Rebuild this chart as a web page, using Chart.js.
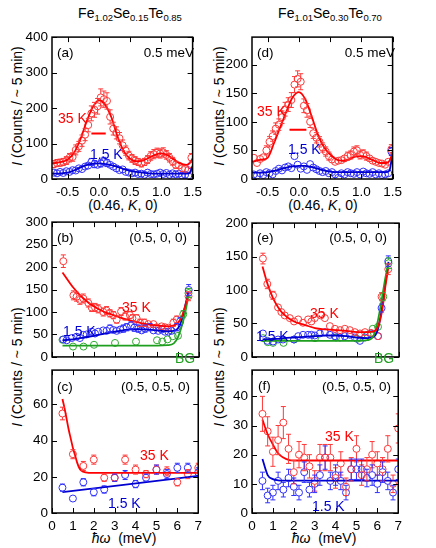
<!DOCTYPE html>
<html>
<head>
<meta charset="utf-8">
<script src="https://cdn.jsdelivr.net/npm/chart.js@4.4.1/dist/chart.umd.min.js"></script>
<style>
  body { margin: 0; background: #fff; width: 436px; height: 548px; position: relative; overflow: hidden;
         font-family: "Liberation Sans", Arial, Helvetica, sans-serif; }
  canvas { position: absolute; }
  .t { position: absolute; white-space: nowrap; color: #000; transform: translate(-50%, -50%); }
  .title { font-size: 14px; }
  .title sub { font-size: 9.5px; vertical-align: -3px; line-height: 0; }
  .axt { font-size: 14px; }
  .yt { font-size: 14px; transform: translate(-50%, -50%) rotate(-90deg); }
</style>
</head>
<body>

<div class="t title" style="left:130px;top:13px">Fe<sub>1.02</sub>Se<sub>0.15</sub>Te<sub>0.85</sub></div>
<div class="t title" style="left:330px;top:13px">Fe<sub>1.01</sub>Se<sub>0.30</sub>Te<sub>0.70</sub></div>

<div class="t yt" style="left:17px;top:106px"><i>I</i> (Counts / ~ 5 min)</div>
<div class="t yt" style="left:17px;top:367px"><i>I</i> (Counts / ~ 5 min)</div>
<div class="t yt" style="left:219px;top:106px"><i>I</i> (Counts / ~ 5 min)</div>
<div class="t yt" style="left:219px;top:367px"><i>I</i> (Counts / ~ 5 min)</div>

<div class="t axt" style="left:123px;top:205px">(0.46, <i>K</i>, 0)</div>
<div class="t axt" style="left:323px;top:205px">(0.46, <i>K</i>, 0)</div>
<div class="t axt" style="left:124px;top:538px"><i>ħω</i>&nbsp; (meV)</div>
<div class="t axt" style="left:324px;top:538px"><i>ħω</i>&nbsp; (meV)</div>

<canvas id="pa"></canvas>
<canvas id="pd"></canvas>
<canvas id="pb"></canvas>
<canvas id="pe"></canvas>
<canvas id="pc"></canvas>
<canvas id="pf"></canvas>

<script>
// ---------- tick labels ----------
const kTicks = [-0.5, 0, 0.5, 1.0, 1.5];
const eTicks = [0, 1, 2, 3, 4, 5, 6, 7];
const aYTicks = [0, 100, 200, 300, 400];
const dYTicks = [0, 50, 100, 150, 200];
const bYTicks = [0, 50, 100, 150, 200, 250, 300];
const eYTicks = [0, 50, 100, 150, 200];
const cYTicks = [0, 20, 40, 60];
const fYTicks = [0, 10, 20, 30, 40];

// ---------- (a) / (d) : constant-energy scans along (0.46, K, 0) ----------
const kPts = [-0.72,-0.67,-0.62,-0.57,-0.52,-0.47,-0.42,-0.37,-0.32,-0.27,-0.22,-0.17,-0.12,-0.07,-0.02,
              0.03,0.08,0.13,0.18,0.23,0.28,0.33,0.38,0.43,0.48,0.53,0.58,0.63,0.68,0.73,
              0.78,0.83,0.88,0.93,0.98,1.03,1.08,1.13,1.18,1.23,1.28,1.33,1.38,1.43,1.48];
const aRed = [42,45,46,48,52,60,62,82,92,108, 125,152,185,195,205,230,225,220,175,142,
              130,115,95,80,66,58,52,48,44,48, 55,65,70,74,72,75,68,60,50,40, 38,30,28,25,60];
const aRedErr = [10,10,10,10,11,12,12,14,14,16, 17,19,21,21,22,24,23,23,20,18,
                 17,16,15,13,12,11,11,10,10,10, 11,12,13,13,13,13,12,12,11,10, 9,8,8,8,12];
const aBlue = [18,16,20,17,22,20,25,24,30,28, 35,38,48,42,40,44,50,45,40,35,
               30,25,27,20,18,16,18,14,15,12, 18,14,13,15,18,14,17,12,16,13, 15,10,12,9,38];
const aBlueErr = [6,6,7,6,7,7,8,7,8,8, 9,9,10,10,9,10,11,10,9,9,
                  8,8,8,7,6,6,6,6,6,5, 6,6,5,6,6,6,6,5,6,5, 6,5,5,5,9];
const dRed = [37,28,35,38,50,65,75,88,95,108, 122,130,138,165,175,170,128,120,100,80,
              72,65,55,48,40,34,30,32,33,36, 40,42,48,50,42,44,40,36,32,30, 28,27,25,30,52];
const dRedErr = [6,5,6,6,8,9,9,10,10,11, 12,12,13,14,14,14,12,12,10,9,
                 9,9,8,8,7,6,6,6,6,6, 7,7,8,8,7,7,7,6,6,6, 6,6,6,6,8];
const dBlue = [8,6,10,7,12,10,8,14,18,15, 20,22,19,40,25,18,22,16,26,20,
               17,14,12,14,10,12,8,2,10,8, 12,10,9,12,8,13,10,9,12,8, 10,7,8,10,48];
const dBlueErr = [3,3,3,3,4,3,3,4,4,4, 4,5,4,6,5,4,5,4,5,4,
                  4,4,3,4,3,3,3,2,3,3, 3,3,3,3,3,4,3,3,3,3, 3,3,3,3,7];

const kFit = [-0.75,-0.6,-0.5,-0.4,-0.3,-0.2,-0.1,0,0.1,0.2,0.3,0.4,0.5,0.6,0.7,0.8,0.9,1.0,1.1,1.2,1.3,1.4,1.45,1.5];
const aRedFit  = [44,48,55,73,110,160,202,222,209,174,119,78,57,50,52,60,68,72,67,55,44,40,44,58];
const aBlueFit = [15,16,18,24,32,39,43,44,42,39,34,28,23,20,18,16,15,15,15,15,15,15,17,37];
const dRedFit  = [30,34,37,62,90,118,143,152,140,111,79,56,43,34,32,34,39,40,37,32,28,28,32,46];
const dBlueFit = [11,11,12,14,17,20,22,23,23,21,18,15,13,12,12,12,12,12,12,12,12,12,15,48];

// resolution bars
const aResK = [-0.12, 0.11], aResI = [128, 128];
const dResK = [-0.15, 0.12], dResI = [86, 86];

// ---------- (b) (0.5, 0, 0), x = 0.15 ----------
const bRedE = [0.54,1.02,1.17,1.33,1.49,1.73,1.89,2.05,2.2,2.44,2.6,2.76,2.92,3.08,3.29,
               3.48,3.71,3.83,4.03,4.19,4.4,4.59,4.83,4.98,5.22,5.38,5.54,5.78,5.94,6.5];
const bRed = [213,137,134,127,130,120,110,110,107,100,103,97,93,83,101,
              90,93,86,86,76,76,73,73,66,68,66,65,76,83,135];
const bRedErr = [14,10,10,10,10,9,9,9,9,9,9,8,8,8,9, 8,8,8,8,8,8,7,7,7,7,7,7,8,8,10];
const bBlueE = [0.54,0.7,0.94,1.17,1.33,1.49,1.65,1.89,2.05,2.2,2.44,2.6,2.76,2.92,3.08,3.25,3.4,
                3.56,3.76,3.92,4.11,4.27,4.43,4.67,4.83,5.06,5.22,5.38,5.54,5.7,5.94,6.1,6.51];
const bBlue = [39,37,42,45,42,49,50,56,52,56,59,58,63,60,58,61,63,
               66,70,65,63,59,63,66,59,58,61,56,56,58,66,79,149];
const bBlueErr = [6,6,6,6,6,7,7,7,7,7,7,7,8,7,7,7,8, 8,8,8,8,7,8,8,7,7,7,7,7,7,8,9,12];
const bBgE = [0.5,1.0,1.5,2.0,3.0,4.0,5.0,5.25,5.5,5.75,6.0,6.25,6.5];
const bBg = [38,23,23,27,31,34,37,34,39,46,47,95,142];
const bBgErr = [5,4,4,5,5,5,5,5,5,6,6,8,10];
const bFitE = [0.5,1,1.5,2,2.5,3,3.5,4,4.5,5,5.5,5.8,6.0,6.2,6.35,6.5];
const bRedFit  = [188,155,130,112,100,92,84,78,73,70,68,70,76,92,115,140];
const bBlueFit = [37,39,43,47,52,56,60,62,61,59,57,58,64,85,115,145];
const bBgFit   = [25,25,25,25,25,25,25,25,25,25,26,30,44,72,100,137];

// ---------- (e) (0.5, 0, 0), x = 0.30 ----------
const eRedE = [0.52,0.73,1.0,1.24,1.4,1.56,1.8,2.0,2.2,2.43,2.67,2.83,2.99,3.28,
               3.47,3.71,3.95,4.19,4.42,4.66,4.9,5.14,5.38,5.66,6.0,6.17,6.49];
const eRed = [147,109,92,74,67,62,58,53,56,51,56,53,58,62, 58,46,42,40,42,40,37,35,37,36,31,90,131];
const eRedErr = [8,7,6,5,5,5,5,5,5,5,5,5,5,5, 5,4,4,4,4,4,4,4,4,4,4,6,8];
const eBlueE = [0.52,0.73,1.0,1.24,1.48,2.0,2.2,2.43,2.67,2.83,2.99,3.23,3.47,
                3.71,3.95,4.19,4.42,4.66,4.9,5.14,5.38,5.66,6.0,6.17,6.49];
const eBlue = [35,24,23,26,26,26,31,33,33,33,32,35,37, 33,31,29,31,33,29,24,29,35,31,73,143];
const eBlueErr = [4,4,3,3,3,3,3,3,4,4,3,4,4, 4,3,3,3,4,3,3,3,4,4,6,8];
const eBgE = [0.52,0.75,1.0,1.5,2.0,3.0,4.0,5.0,5.5,5.75,6.0,6.25,6.5];
const eBg = [28,22,21,21,26,28,29,27,33,42,45,90,140];
const eBgErr = [4,3,3,3,3,3,3,3,4,4,4,6,8];
const eFitE = [0.5,0.75,1,1.25,1.5,2,2.5,3,3.5,4,4.5,5,5.5,5.8,6.0,6.2,6.35,6.5];
const eRedFit  = [135,108,88,74,64,53,48,43,41,40,39,37,37,38,45,70,105,135];
const eBlueFit = [26,26,27,27,28,29,30,31,32,32,31,29,28,30,42,75,110,142];
const eBgFit   = [24,24,24,24,24,24,24,24,24,24,24,24,25,32,55,90,118,140];

// ---------- (c) (0.5, 0.5, 0), x = 0.15 ----------
const cE = [0.5,1,1.5,2,2.5,3,3.5,4,4.5,5,5.5,6,6.5,7];
const cRed = [55,32.5,26,29.5,19.5,19.5,29.5,24,21.5,24,23,17,21.5,25];
const cRedErr = [3.5,2.5,2.5,2.5,2,2,2.5,2.5,2,2.5,2.5,2,2.5,2.5];
const cBlue = [14,8,17,11.5,13,19.5,21,16,19.5,24,21.5,25,25,22.5];
const cBlueErr = [2,1.5,2,2,2,2,2.5,2,2,2.5,2.5,2.5,2.5,2.5];
const cRedFitE = [0.5,0.6,0.7,0.8,0.9,1.0,1.1,1.2,1.3,1.4,1.6,2.0,7.0];
const cRedFit  = [63,58,52,46,41,36,32,28,25,23.5,22.5,22.2,22.2];
const cBlueFitE = [0.5, 7];
const cBlueFit  = [11.5, 20.5];

// ---------- (f) (0.5, 0.5, 0), x = 0.30 ----------
const fE = [0.5,0.75,1,1.25,1.5,1.75,2,2.25,2.5,2.75,3,3.25,3.5,3.75,4,4.25,4.5,4.75,5,5.25,5.5,5.75,6,6.25,6.5,6.75,7];
const fRed = [34,28,21,25,31,22,14,20,19,16,11,19,19,19,12,17,9,15,22,13,15,20,17,15,22,10,29];
const fRedErr = [6,5,5,5,5.5,5,4,4.5,4.5,4,3.5,4.5,4.5,4.5,3.5,4,3,4,4.5,3.5,4,4.5,4,4,4.5,3,5];
const fBlue = [11,6,7,11,8,12,9,7,14,8,10,13,19,11,13,11,7,15,15,15,12,13,10,14,11,7,15];
const fBlueErr = [3,2.5,2.5,3,2.5,3,3,2.5,3.5,2.5,3,3.5,4,3,3.5,3,2.5,3.5,3.5,3.5,3,3.5,3,3.5,3,2.5,3.5];
const fRedFitE = [0.5,0.75,1,1.25,1.5,1.75,2,7];
const fRedFit  = [32,27,23.5,20.5,19,18.2,18,18];
const fBlueFitE = [0.5,0.75,1,1.25,1.5,7];
const fBlueFit  = [18.5,13,11.6,11.2,11.1,11.1];

// ---------- drawing ----------
const FONT = '"Liberation Sans", Arial, Helvetica, sans-serif';
Chart.defaults.font.family = FONT;
Chart.defaults.color = '#000';

const RED = '#ff0000', RED_PT = '#ff3838';
const BLUE = '#0000d0', BLUE_PT = '#3030ff';
const GREEN = '#1f9f1f', GREEN_PT = '#30a830';

function pts(xs, ys) { return xs.map((x, i) => ({ x: x, y: ys[i] })); }

function scatter(xs, ys, errs, color) {
  return { data: pts(xs, ys), err: errs, borderColor: color, backgroundColor: 'rgba(0,0,0,0)',
           showLine: false, pointRadius: 3.5, pointBorderWidth: 1, pointHoverRadius: 3.5, order: 2 };
}
function fit(xs, ys, color) {
  return { data: pts(xs, ys), borderColor: color, borderWidth: 1.8, pointRadius: 0,
           cubicInterpolationMode: 'monotone', fill: false, order: 1 };
}

// error bars, drawn outside the open circle
const errorBars = {
  id: 'errorBars',
  afterDatasetsDraw(chart) {
    const ctx = chart.ctx, xs = chart.scales.x, ys = chart.scales.y, a = chart.chartArea;
    ctx.save();
    ctx.beginPath(); ctx.rect(a.left, a.top, a.right - a.left, a.bottom - a.top); ctx.clip();
    chart.data.datasets.forEach(ds => {
      if (!ds.err) return;
      ctx.strokeStyle = ds.borderColor; ctx.lineWidth = 1;
      ds.data.forEach((p, i) => {
        const px = xs.getPixelForValue(p.x);
        const yc = ys.getPixelForValue(p.y);
        const yt = ys.getPixelForValue(p.y + ds.err[i]);
        const yb = ys.getPixelForValue(p.y - ds.err[i]);
        const r = 3.5;
        ctx.beginPath();
        if (yc - yt > r) {
          ctx.moveTo(px, yc - r); ctx.lineTo(px, yt);
          ctx.moveTo(px - 2.5, yt); ctx.lineTo(px + 2.5, yt);
        }
        if (yb - yc > r) {
          ctx.moveTo(px, yc + r); ctx.lineTo(px, yb);
          ctx.moveTo(px - 2.5, yb); ctx.lineTo(px + 2.5, yb);
        }
        ctx.stroke();
      });
    });
    ctx.restore();
  }
};

// frame, inward ticks on all four sides, and in-panel labels
const frame = {
  id: 'frame',
  afterDraw(chart, args, opts) {
    const { ctx, chartArea: a, scales } = chart;
    ctx.save();
    ctx.strokeStyle = '#000'; ctx.lineWidth = 1;
    ctx.beginPath();
    scales.x.ticks.forEach(t => {
      const px = Math.round(scales.x.getPixelForValue(t.value)) + 0.5;
      ctx.moveTo(px, a.bottom); ctx.lineTo(px, a.bottom - 5);
      ctx.moveTo(px, a.top); ctx.lineTo(px, a.top + 5);
    });
    scales.y.ticks.forEach(t => {
      const py = Math.round(scales.y.getPixelForValue(t.value)) + 0.5;
      ctx.moveTo(a.left, py); ctx.lineTo(a.left + 5, py);
      ctx.moveTo(a.right, py); ctx.lineTo(a.right - 5, py);
    });
    ctx.stroke();
    ctx.lineWidth = 1.5;
    ctx.strokeRect(a.left, a.top, a.right - a.left, a.bottom - a.top);
    (opts.labels || []).forEach(l => {
      ctx.font = (l.size || 13.5) + 'px ' + FONT;
      ctx.fillStyle = l.color || '#000';
      ctx.textAlign = l.align || 'left';
      ctx.textBaseline = 'alphabetic';
      ctx.fillText(l.text, a.left + l.x, a.top + l.y);
    });
    ctx.restore();
  }
};

function panel(id, box, cfg) {
  const showX = cfg.showX;
  const xh = showX ? 22 : 3;
  const cv = document.getElementById(id);
  cv.width = box.R - box.L + 58;
  cv.height = box.B - box.T + 8 + xh;
  cv.style.left = (box.L - 50) + 'px';
  cv.style.top = (box.T - 8) + 'px';
  const fmt = cfg.xFmt || (v => String(v));
  return new Chart(cv, {
    type: 'line',
    data: { datasets: cfg.datasets },
    plugins: [errorBars, frame],
    options: {
      responsive: false, animation: false, devicePixelRatio: 1,
      layout: { padding: { left: 0, top: 8, right: 8, bottom: 0 } },
      plugins: { legend: { display: false }, tooltip: { enabled: false }, frame: { labels: cfg.labels } },
      scales: {
        x: {
          type: 'linear', min: cfg.xMin, max: cfg.xMax,
          grid: { display: false, drawTicks: false }, border: { display: false },
          ticks: { display: showX, padding: 5, maxRotation: 0, autoSkip: false,
                   font: { size: 13.5 }, callback: fmt },
          afterBuildTicks: s => { s.ticks = cfg.xTicks.map(v => ({ value: v })); },
          afterFit: s => { s.height = xh; }
        },
        y: {
          type: 'linear', min: 0, max: cfg.yMax,
          grid: { display: false, drawTicks: false }, border: { display: false },
          ticks: { padding: 4, font: { size: 13.5 } },
          afterBuildTicks: s => { s.ticks = cfg.yTicks.map(v => ({ value: v })); },
          afterFit: s => { s.width = 50; }
        }
      }
    }
  });
}

const kFmt = v => v.toFixed(1);

panel('pa', { L: 52, R: 199, T: 33, B: 179 }, {
  showX: true, xMin: -0.75, xMax: 1.5, xTicks: kTicks, xFmt: kFmt, yMax: 400, yTicks: aYTicks,
  datasets: [
    scatter(kPts, aRed, aRedErr, RED_PT), scatter(kPts, aBlue, aBlueErr, BLUE_PT),
    fit(kFit, aRedFit, RED), fit(kFit, aBlueFit, BLUE),
    { data: pts(aResK, aResI), borderColor: RED, borderWidth: 2, pointRadius: 0, order: 0 }
  ],
  labels: [
    { text: '(a)', x: 5, y: 20 }, { text: '0.5 meV', x: 142, y: 20, align: 'right' },
    { text: '35 K', x: 6, y: 86, color: RED, size: 14 }, { text: '1.5 K', x: 38, y: 122, color: BLUE, size: 14 }
  ]
});

panel('pd', { L: 252, R: 399, T: 33, B: 179 }, {
  showX: true, xMin: -0.75, xMax: 1.5, xTicks: kTicks, xFmt: kFmt, yMax: 248, yTicks: dYTicks,
  datasets: [
    scatter(kPts, dRed, dRedErr, RED_PT), scatter(kPts, dBlue, dBlueErr, BLUE_PT),
    fit(kFit, dRedFit, RED), fit(kFit, dBlueFit, BLUE),
    { data: pts(dResK, dResI), borderColor: RED, borderWidth: 2, pointRadius: 0, order: 0 }
  ],
  labels: [
    { text: '(d)', x: 5, y: 20 }, { text: '0.5 meV', x: 143, y: 20, align: 'right' },
    { text: '35 K', x: 5, y: 79, color: RED, size: 14 }, { text: '1.5 K', x: 36, y: 117, color: BLUE, size: 14 }
  ]
});

panel('pb', { L: 52, R: 199, T: 218, B: 366 }, {
  showX: false, xMin: 0, xMax: 7, xTicks: eTicks, yMax: 300, yTicks: bYTicks,
  datasets: [
    scatter(bRedE, bRed, bRedErr, RED_PT), scatter(bBlueE, bBlue, bBlueErr, BLUE_PT),
    scatter(bBgE, bBg, bBgErr, GREEN_PT),
    fit(bFitE, bRedFit, RED), fit(bFitE, bBgFit, GREEN), fit(bFitE, bBlueFit, BLUE)
  ],
  labels: [
    { text: '(b)', x: 5, y: 20 }, { text: '(0.5, 0, 0)', x: 135, y: 20, align: 'right' },
    { text: '35 K', x: 70, y: 90, color: RED, size: 14 }, { text: '1.5 K', x: 11, y: 114, color: BLUE, size: 14 },
    { text: 'BG', x: 123, y: 141, color: GREEN, size: 14 }
  ]
});

panel('pe', { L: 252, R: 399, T: 219, B: 366 }, {
  showX: false, xMin: 0, xMax: 7, xTicks: eTicks, yMax: 200, yTicks: eYTicks,
  datasets: [
    scatter(eRedE, eRed, eRedErr, RED_PT), scatter(eBlueE, eBlue, eBlueErr, BLUE_PT),
    scatter(eBgE, eBg, eBgErr, GREEN_PT),
    fit(eFitE, eRedFit, RED), fit(eFitE, eBgFit, GREEN), fit(eFitE, eBlueFit, BLUE)
  ],
  labels: [
    { text: '(e)', x: 5, y: 19 }, { text: '(0.5, 0, 0)', x: 135, y: 19, align: 'right' },
    { text: '35 K', x: 58, y: 95, color: RED, size: 14 }, { text: '1.5 K', x: 4, y: 118, color: BLUE, size: 14 },
    { text: 'BG', x: 122, y: 140, color: GREEN, size: 14 }
  ]
});

panel('pc', { L: 52, R: 199, T: 366, B: 513 }, {
  showX: true, xMin: 0, xMax: 7, xTicks: eTicks, yMax: 79, yTicks: cYTicks,
  datasets: [
    scatter(cE, cRed, cRedErr, RED_PT), scatter(cE, cBlue, cBlueErr, BLUE_PT),
    fit(cRedFitE, cRedFit, RED), fit(cBlueFitE, cBlueFit, BLUE)
  ],
  labels: [
    { text: '(c)', x: 5, y: 21 }, { text: '(0.5, 0.5, 0)', x: 138, y: 21, align: 'right' },
    { text: '35 K', x: 88, y: 90, color: RED, size: 14 }, { text: '1.5 K', x: 56, y: 138, color: BLUE, size: 14 }
  ]
});

panel('pf', { L: 252, R: 399, T: 366, B: 513 }, {
  showX: true, xMin: 0, xMax: 7, xTicks: eTicks, yMax: 49, yTicks: fYTicks,
  datasets: [
    scatter(fE, fRed, fRedErr, RED_PT), scatter(fE, fBlue, fBlueErr, BLUE_PT),
    fit(fRedFitE, fRedFit, RED), fit(fBlueFitE, fBlueFit, BLUE)
  ],
  labels: [
    { text: '(f)', x: 6, y: 20 }, { text: '(0.5, 0.5, 0)', x: 139, y: 21, align: 'right' },
    { text: '35 K', x: 73, y: 71, color: RED, size: 14 }, { text: '1.5 K', x: 60, y: 141, color: BLUE, size: 14 }
  ]
});
</script>
</body>
</html>
